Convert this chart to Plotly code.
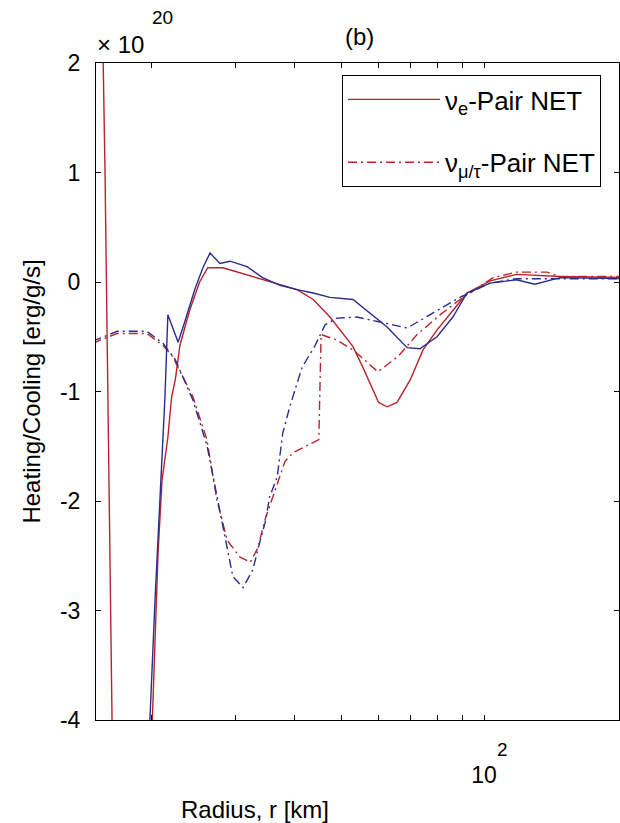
import plotly.graph_objects as go

# ---------------- data (radius in km, rate in units of 1e20 erg/g/s) ----------------
r_red_solid = [15.65, 15.93, 16.48, 16.6, 18.0, 20.0, 20.6, 21.0, 21.6, 22.0, 22.4, 22.9, 24.0,
               25.2, 26.2, 28.2, 34.2, 40.4, 43.7, 47.4, 53.0, 55.6, 60.0, 62.5, 65.6, 70.0,
               74.4, 79.6, 86.0, 92.1, 103, 117, 144.5, 200]
v_red_solid = [3.0, 1.0, -4.0, -4.6, -9.0, -4.1, -2.47, -1.81, -1.42, -1.05, -0.89, -0.58, -0.26,
               0.0, 0.13, 0.13, 0.02, -0.07, -0.16, -0.32, -0.59, -0.78, -1.10, -1.14, -1.10, -0.89,
               -0.62, -0.44, -0.26, -0.10, 0.01, 0.07, 0.05, 0.04]

r_blue_solid = [18.9, 19.8, 20.3, 20.8, 21.1, 21.3, 21.6, 22.7, 23.5, 24.6, 25.6, 26.5, 27.8,
                29.2, 31.7, 34.2, 37.2, 40.4, 43.7, 47.4, 53.0, 57.5, 62.5, 68.9, 73.3, 79.6,
                86.0, 92.1, 103, 117, 128, 144.5, 200]
v_blue_solid = [-4.7, -4.0, -2.9, -1.99, -1.42, -1.05, -0.30, -0.55, -0.35, -0.07, 0.13, 0.265, 0.17,
                0.19, 0.14, 0.04, -0.03, -0.07, -0.10, -0.14, -0.16, -0.28, -0.41, -0.60, -0.61, -0.50,
                -0.32, -0.10, -0.01, 0.02, -0.02, 0.04, 0.03]

r_red_dd = [15.0, 16.9, 19.5, 21.1, 22.1, 24.4, 26.1, 27.4, 28.8, 30.6, 32.2, 33.4, 34.6, 36.3,
            38.1, 39.6, 43.7, 44.9, 45.4, 49.0, 53.0, 59.8, 65.9, 72.3, 80.8, 89.0, 104.5, 117,
            135.7, 144.5, 200]
v_red_dd = [-0.56, -0.47, -0.47, -0.58, -0.68, -1.05, -1.44, -1.99, -2.36, -2.51, -2.56, -2.43, -2.17, -1.90,
            -1.64, -1.56, -1.46, -1.44, -0.48, -0.53, -0.62, -0.82, -0.68, -0.48, -0.30, -0.16, 0.04, 0.09,
            0.09, 0.05, 0.05]

r_blue_dd = [15.0, 16.9, 19.5, 21.1, 22.4, 24.4, 26.1, 27.8, 29.6, 31.1, 32.6, 33.8, 34.6, 35.4,
             36.7, 37.7, 39.0, 41.4, 44.1, 46.3, 49.0, 54.0, 61.3, 68.9, 76.9, 89.0, 103, 117,
             144.5, 200]
v_blue_dd = [-0.54, -0.45, -0.45, -0.56, -0.71, -1.08, -1.49, -2.08, -2.69, -2.79, -2.63, -2.36, -2.20, -1.96,
             -1.78, -1.38, -1.14, -0.78, -0.58, -0.39, -0.33, -0.32, -0.37, -0.42, -0.30, -0.14, -0.01, 0.03,
             0.03, 0.03]

x_major_ticks = [100]
x_major_text = ["10"]
x_minor_ticks = [20, 30, 40, 50, 60, 70, 80, 90, 200]
y_ticks = [-4, -3, -2, -1, 0, 1, 2]
y_tick_text = ["-4", "-3", "-2", "-1", "0", "1", "2"]

RED = "#b8242c"
BLUE = "#2a2c8e"
FONT = "Liberation Sans"
DASHDOT = "9px,4px,2px,4px"

fig = go.Figure()
fig.add_trace(go.Scatter(x=r_red_solid, y=v_red_solid, mode="lines",
                         line=dict(color=RED, width=1.4),
                         name="ν<sub>e</sub>-Pair NET", legendgroup="a"))
fig.add_trace(go.Scatter(x=r_red_dd, y=v_red_dd, mode="lines",
                         line=dict(color=RED, width=1.4, dash=DASHDOT),
                         name="ν<sub>μ/τ</sub>-Pair NET", legendgroup="b"))
fig.add_trace(go.Scatter(x=r_blue_solid, y=v_blue_solid, mode="lines",
                         line=dict(color=BLUE, width=1.4), showlegend=False))
fig.add_trace(go.Scatter(x=r_blue_dd, y=v_blue_dd, mode="lines",
                         line=dict(color=BLUE, width=1.4, dash=DASHDOT), showlegend=False))

L, T, B, R = 96, 63, 103, 1
W, H = 620, 823

fig.update_layout(
    width=W, height=H,
    margin=dict(l=L, r=R, t=T, b=B, autoexpand=False),
    paper_bgcolor="white", plot_bgcolor="white",
    font=dict(family=FONT, size=24, color="black"),
    xaxis=dict(type="log", range=[1.1832, 2.2842],
               tickmode="array", tickvals=x_major_ticks, ticktext=x_major_text,
               ticks="inside", ticklen=5, tickcolor="black",
               minor=dict(tickmode="array", tickvals=x_minor_ticks, ticks="inside",
                          ticklen=5, tickcolor="black", showgrid=False),
               showline=True, linecolor="black", linewidth=1, mirror="ticks",
               showgrid=False, zeroline=False, ticklabelstandoff=34,
               tickfont=dict(size=23)),
    yaxis=dict(range=[-4, 2], tickmode="array", tickvals=y_ticks, ticktext=y_tick_text,
               ticks="inside", ticklen=5, tickcolor="black",
               showline=True, linecolor="black", linewidth=1, mirror="ticks",
               showgrid=False, zeroline=False, ticklabelstandoff=10,
               tickfont=dict(size=23),
               title=dict(text="Heating/Cooling [erg/g/s]", font=dict(size=24), standoff=12)),
    legend=dict(x=(342 - L) / (W - L - R), y=(H - B - 75) / (H - T - B),
                xanchor="left", yanchor="top",
                bgcolor="white", bordercolor="black", borderwidth=1,
                font=dict(size=26), itemwidth=92, tracegroupgap=26,
                entrywidth=170, entrywidthmode="pixels"),
    showlegend=True,
)

ann = [
    dict(text="× 10", x=95, y=44, size=24, xa="left"),
    dict(text="20", x=162, y=18, size=19, xa="center"),
    dict(text="(b)", x=359, y=36, size=24, xa="center"),
    dict(text="2", x=502, y=750, size=19, xa="center"),
    dict(text="Radius, r [km]", x=255, y=809, size=24, xa="center"),
]
for a in ann:
    fig.add_annotation(text=a["text"], xref="paper", yref="paper",
                       x=(a["x"] - L) / (W - L - R), y=(H - B - a["y"]) / (H - T - B),
                       xanchor=a["xa"], yanchor="middle", showarrow=False,
                       font=dict(family=FONT, color="black", size=a["size"]))

fig.write_html("out.html",
               config={"displayModeBar": False},
               post_script="document.body.style.margin='0';document.body.style.overflow='hidden';")
